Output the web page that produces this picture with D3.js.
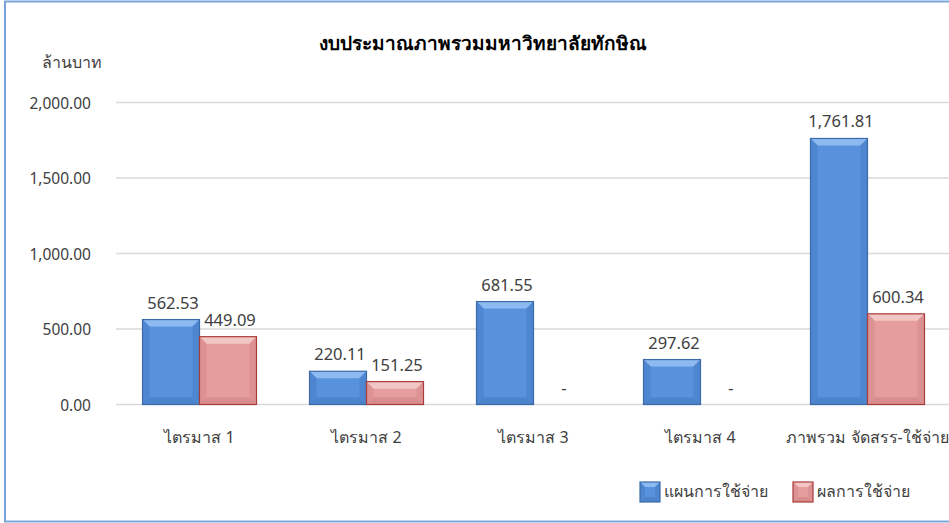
<!DOCTYPE html>
<html><head><meta charset="utf-8">
<script src="https://cdn.jsdelivr.net/npm/d3@7/dist/d3.min.js"></script>
<style>body{margin:0;background:#fff}svg{display:block}</style>
</head><body>
<script>
const categories = ["ไตรมาส 1","ไตรมาส 2","ไตรมาส 3","ไตรมาส 4","ภาพรวม จัดสรร-ใช้จ่าย"];
const seriesNames = ["แผนการใช้จ่าย","ผลการใช้จ่าย"];
const planValues = [562.53, 220.11, 681.55, 297.62, 1761.81];
const actualValues = [449.09, 151.25, 0, 0, 600.34];
const yTicks = [0, 500, 1000, 1500, 2000];
const title = "งบประมาณภาพรวมมหาวิทยาลัยทักษิณ";
const yTitle = "ล้านบาท";

const W = 949, H = 523;
const FONT = "'Noto Sans','Open Sans',sans-serif";
const svg = d3.select("body").append("svg").attr("width", W).attr("height", H);

svg.append("rect").attr("x",5).attr("y",1.5).attr("width",970).attr("height",520)
  .attr("fill","#fff").attr("stroke","#7aa5d9").attr("stroke-width",2);

const x0 = d3.scaleBand().domain(categories).range([116, 951]).padding(0);
const x1 = d3.scaleBand().domain(seriesNames).range([0, x0.bandwidth()]).paddingInner(0).paddingOuter(0.465);
const y = d3.scaleLinear().domain([0, 2000]).range([404.5, 102.5]);

// gridlines
svg.append("g").selectAll("line").data(yTicks).join("line")
  .attr("x1",116).attr("x2",951).attr("y1",d=>y(d)).attr("y2",d=>y(d))
  .attr("stroke","#d9d9d9").attr("stroke-width",1.5);

// y tick labels
const fmt = d3.format(",.2f");
svg.append("g").selectAll("text").data(yTicks).join("text")
  .attr("x",91).attr("y",d=>y(d)+6).attr("text-anchor","end")
  .attr("font-family",FONT).attr("font-size",15.5).attr("fill","#404040")
  .text(d=>fmt(d));

// titles
svg.append("text").attr("x",483).attr("y",50).attr("text-anchor","middle")
  .attr("font-family",FONT).attr("font-weight","bold").attr("font-size",19).attr("fill","#000").text(title);
svg.append("text").attr("x",72).attr("y",68).attr("text-anchor","middle")
  .attr("font-family",FONT).attr("font-size",16).attr("fill","#404040").text(yTitle);

const styles = {
  "แผนการใช้จ่าย": {main:"#5892dc", top:"#8dbaf0", bottom:"#4c84cc", side:"#4e86d0", stroke:"#3b6aa8"},
  "ผลการใช้จ่าย": {main:"#e59d9d", top:"#f3c6c6", bottom:"#d98c8c", side:"#dc9292", stroke:"#a83c3a"}
};

function bevelBar(g, bx, by, bw, bh, st){
  const b = Math.min(7, bw/4, bh/2);
  g.append("rect").attr("x",bx).attr("y",by).attr("width",bw).attr("height",bh).attr("fill",st.main);
  if (bh > 0) {
    g.append("path").attr("d",`M${bx},${by}L${bx+bw},${by}L${bx+bw-b},${by+b}L${bx+b},${by+b}Z`).attr("fill",st.top);
    g.append("path").attr("d",`M${bx},${by+bh}L${bx+bw},${by+bh}L${bx+bw-b},${by+bh-b}L${bx+b},${by+bh-b}Z`).attr("fill",st.bottom);
    g.append("path").attr("d",`M${bx},${by}L${bx+b},${by+b}L${bx+b},${by+bh-b}L${bx},${by+bh}Z`).attr("fill",st.side);
    g.append("path").attr("d",`M${bx+bw},${by}L${bx+bw-b},${by+b}L${bx+bw-b},${by+bh-b}L${bx+bw},${by+bh}Z`).attr("fill",st.side);
    g.append("rect").attr("x",bx).attr("y",by).attr("width",bw).attr("height",bh)
      .attr("fill","none").attr("stroke",st.stroke).attr("stroke-width",1.2);
  }
}

const rows = categories.map((c,i)=>({cat:c, vals:[{s:seriesNames[0], v:planValues[i]},{s:seriesNames[1], v:actualValues[i]}]}));
const groups = svg.append("g").selectAll("g").data(rows).join("g")
  .attr("transform", d=>`translate(${x0(d.cat)},0)`);
groups.each(function(d){
  const g = d3.select(this);
  d.vals.forEach(o=>{
    const bx = x1(o.s), bw = x1.bandwidth(), by = y(o.v), bh = y(0)-y(o.v);
    bevelBar(g, bx, by, bw, bh, styles[o.s]);
    g.append("text").attr("x", bx+bw/2+2).attr("y", by-11).attr("text-anchor","middle")
      .attr("font-family",FONT).attr("font-size",16.5).attr("fill","#404040")
      .text(o.v === 0 ? "-" : fmt(o.v));
  });
});

// x labels
svg.append("g").selectAll("text").data(categories).join("text")
  .attr("x",d=>x0(d)+x0.bandwidth()/2).attr("y",443).attr("text-anchor","middle")
  .attr("font-family",FONT).attr("font-size",16).attr("fill","#404040").text(d=>d);

// legend
const legendX = [640, 793];
const lg = svg.append("g").selectAll("g").data(seriesNames).join("g")
  .attr("transform",(d,i)=>`translate(${legendX[i]},482)`);
lg.each(function(s){
  const g = d3.select(this);
  bevelBar(g, 0, 0, 20, 20, styles[s]);
  g.append("text").attr("x",24).attr("y",15).attr("font-family",FONT).attr("font-size",16)
    .attr("fill","#404040").text(s);
});
</script>
</body></html>
